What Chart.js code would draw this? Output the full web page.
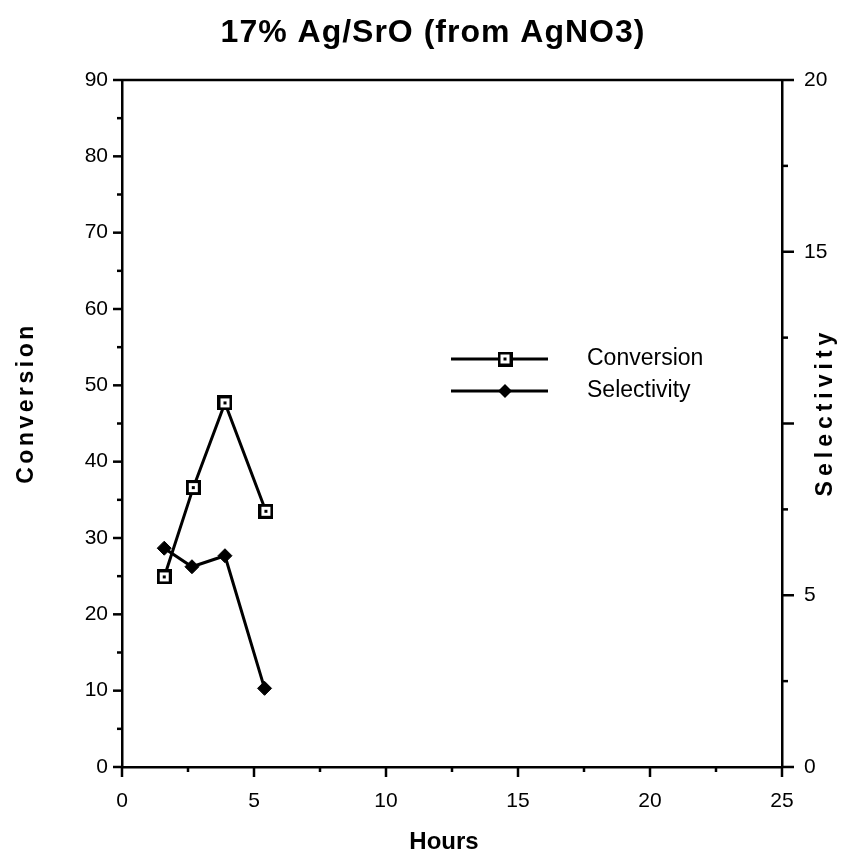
<!DOCTYPE html>
<html>
<head>
<meta charset="utf-8">
<script src="https://cdn.jsdelivr.net/npm/chart.js@4.4.1/dist/chart.umd.min.js"></script>
<style>
html,body{margin:0;padding:0;background:#fff;}
#wrap{width:842px;height:851px;position:relative;}
</style>
</head>
<body>
<div id="wrap"><canvas id="c" width="842" height="851"></canvas></div>
<script>
// ---- data ----
const chartTitle = "17% Ag/SrO (from AgNO3)";
const xTitle = "Hours";
const yLeftTitle = "Conversion";
const yRightTitle = "Selectivity";
const conversionHours = [1.6, 2.7, 3.9, 5.45];
const conversionValues = [24.9, 36.6, 47.7, 33.5];
const selectivityHours = [1.6, 2.65, 3.9, 5.4];
const selectivityValues = [6.37, 5.83, 6.15, 2.29];
const rightTickLabels = {0: "0", 5: "5", 10: "", 15: "15", 20: "20"};

const FONT = "'Liberation Sans', Arial, sans-serif";

// custom marker: open square with dot in center
function makeSquareMarker(){
  const s = 15, cv = document.createElement('canvas');
  cv.width = s; cv.height = s;
  const c = cv.getContext('2d');
  c.fillStyle = '#000'; c.fillRect(0,0,s,s);
  c.fillStyle = '#fff'; c.fillRect(3,3,s-6,s-6);
  c.fillStyle = '#000'; c.fillRect(6,6,3,3);
  return cv;
}
const squareMarker = makeSquareMarker();

const extras = {
  id: 'extras',
  afterDraw(chart){
    const ctx = chart.ctx, ca = chart.chartArea;
    const sx = chart.scales.x, sy = chart.scales.y, sy2 = chart.scales.y2;
    ctx.save();
    ctx.strokeStyle = '#000';
    ctx.lineWidth = 2.5;
    ctx.lineCap = 'butt';
    // top border
    ctx.beginPath(); ctx.moveTo(ca.left, ca.top); ctx.lineTo(ca.right, ca.top); ctx.stroke();
    // left ticks
    for (let v = 0; v <= 90; v += 5){
      const y = sy.getPixelForValue(v), len = (v % 10 === 0) ? 9 : 5;
      ctx.beginPath(); ctx.moveTo(ca.left - len, y); ctx.lineTo(ca.left, y); ctx.stroke();
    }
    // right ticks
    for (let v = 0; v <= 20; v += 2.5){
      const y = sy2.getPixelForValue(v), len = (v % 5 === 0) ? 12 : 6;
      ctx.beginPath(); ctx.moveTo(ca.right, y); ctx.lineTo(ca.right + len, y); ctx.stroke();
    }
    // x ticks
    for (let v = 0; v <= 25; v += 2.5){
      const x = sx.getPixelForValue(v), len = (v % 5 === 0) ? 10 : 5;
      ctx.beginPath(); ctx.moveTo(x, ca.bottom); ctx.lineTo(x, ca.bottom + len); ctx.stroke();
    }
    ctx.fillStyle = '#000';
    // title
    ctx.save();
    ctx.font = "bold 32px " + FONT;
    ctx.letterSpacing = '1px';
    ctx.textAlign = 'center'; ctx.textBaseline = 'alphabetic';
    ctx.fillText(chartTitle, 433, 42);
    ctx.restore();
    // x title
    ctx.font = "bold 24px " + FONT;
    ctx.textAlign = 'center'; ctx.textBaseline = 'alphabetic';
    ctx.fillText(xTitle, 444, 849);
    // left title
    ctx.save();
    ctx.translate(33, 403); ctx.rotate(-Math.PI/2);
    ctx.letterSpacing = '3.5px';
    ctx.font = "bold 23px " + FONT;
    ctx.textAlign = 'center';
    ctx.fillText(yLeftTitle, 0, 0);
    ctx.restore();
    // right title
    ctx.save();
    ctx.translate(832, 412); ctx.rotate(-Math.PI/2);
    ctx.letterSpacing = '5px';
    ctx.font = "bold 23px " + FONT;
    ctx.textAlign = 'center';
    ctx.fillText(yRightTitle, 0, 0);
    ctx.restore();
    // legend
    const legendItems = [
      {label: chart.data.datasets[0].label, y: 359, type: 'sq'},
      {label: chart.data.datasets[1].label, y: 391, type: 'dia'}
    ];
    ctx.font = "23px " + FONT;
    ctx.textAlign = 'left'; ctx.textBaseline = 'middle';
    legendItems.forEach(it => {
      ctx.lineWidth = 3;
      ctx.beginPath(); ctx.moveTo(451, it.y); ctx.lineTo(548, it.y); ctx.stroke();
      if (it.type === 'sq'){
        ctx.drawImage(squareMarker, 505 - 7.5, it.y - 7.5);
      } else {
        ctx.beginPath();
        ctx.moveTo(505, it.y - 7); ctx.lineTo(512, it.y); ctx.lineTo(505, it.y + 7); ctx.lineTo(498, it.y);
        ctx.closePath(); ctx.fill();
      }
      ctx.fillText(it.label, 587, it.y);
    });
    ctx.restore();
  }
};

new Chart(document.getElementById('c'), {
  type: 'line',
  data: {
    datasets: [
      {
        label: 'Conversion',
        data: conversionHours.map((h, i) => ({x: h, y: conversionValues[i]})),
        yAxisID: 'y',
        borderColor: '#000', borderWidth: 3,
        pointStyle: squareMarker, pointRadius: 7,
        backgroundColor: '#000', tension: 0
      },
      {
        label: 'Selectivity',
        data: selectivityHours.map((h, i) => ({x: h, y: selectivityValues[i]})),
        yAxisID: 'y2',
        borderColor: '#000', borderWidth: 3,
        pointStyle: 'rectRot', pointRadius: 7,
        pointBackgroundColor: '#000', pointBorderColor: '#000', pointBorderWidth: 1,
        backgroundColor: '#000', tension: 0
      }
    ]
  },
  options: {
    responsive: false,
    animation: false,
    layout: {padding: {top: 80, left: 0, right: 0, bottom: 0}},
    plugins: {legend: {display: false}, title: {display: false}, tooltip: {enabled: false}},
    scales: {
      x: {
        type: 'linear', min: 0, max: 25,
        afterFit: s => { s.height = 84; },
        grid: {display: false, drawTicks: false},
        border: {display: true, color: '#000', width: 2.5},
        ticks: {stepSize: 5, color: '#000', padding: 22, maxRotation: 0,
                font: {family: FONT, size: 21}}
      },
      y: {
        type: 'linear', position: 'left', min: 0, max: 90,
        afterFit: s => { s.width = 122; },
        grid: {display: false, drawTicks: false},
        border: {display: true, color: '#000', width: 2.5},
        ticks: {stepSize: 10, color: '#000', padding: 14,
                font: {family: FONT, size: 21}}
      },
      y2: {
        type: 'linear', position: 'right', min: 0, max: 20,
        afterFit: s => { s.width = 60; },
        grid: {display: false, drawTicks: false},
        border: {display: true, color: '#000', width: 2.5},
        ticks: {stepSize: 5, color: '#000', padding: 22,
                font: {family: FONT, size: 21},
                callback: v => (v in rightTickLabels ? rightTickLabels[v] : '')}
      }
    }
  },
  plugins: [extras]
});
</script>
</body>
</html>
